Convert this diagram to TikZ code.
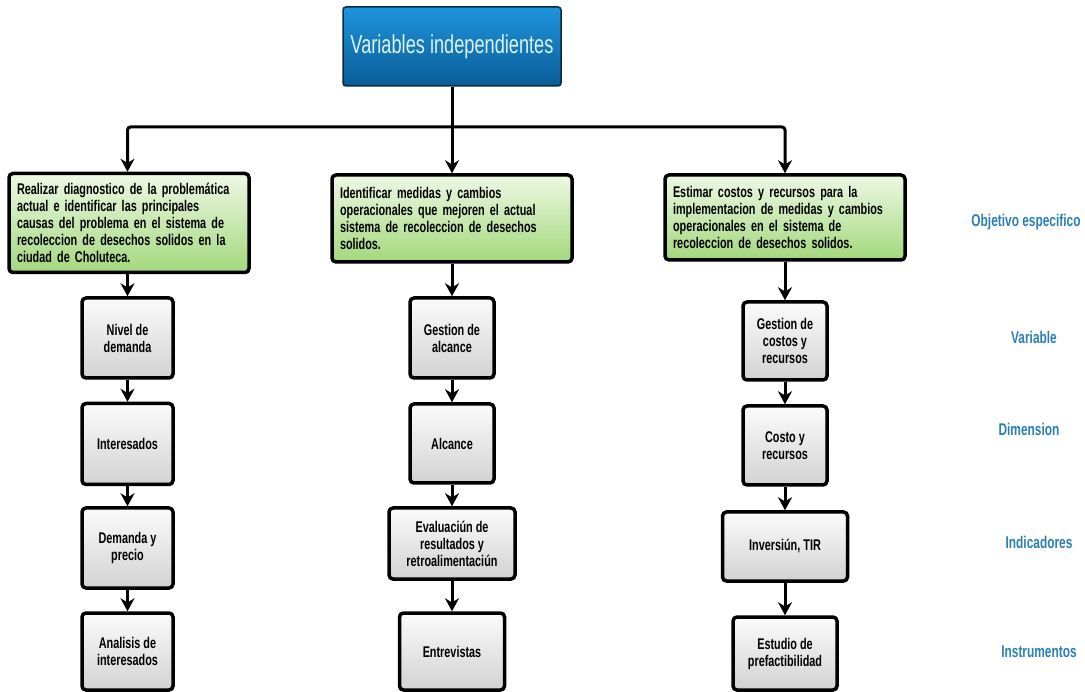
\documentclass[tikz,border=0pt]{standalone}
\usepackage{fontspec}
\setmainfont{Liberation Sans}[FakeStretch=0.7]
\usetikzlibrary{arrows.meta,positioning}
\definecolor{azulArriba}{HTML}{1E95DC}
\definecolor{azulAbajo}{HTML}{0A5C96}
\definecolor{azulBorde}{HTML}{0B2A40}
\definecolor{tituloTexto}{HTML}{DDF2FB}
\definecolor{verdeArriba}{HTML}{EEF8E4}
\definecolor{verdeAbajo}{HTML}{A2D87C}
\definecolor{grisArriba}{HTML}{FBFBFB}
\definecolor{grisAbajo}{HTML}{D2D2D2}
\definecolor{azulEtiqueta}{HTML}{2A7FB3}

\begin{document}
\begin{tikzpicture}[x=1pt,y=-1pt,
  titulo/.style={draw=azulBorde, line width=1.5pt, rounded corners=3pt,
    top color=azulArriba, bottom color=azulAbajo, text=tituloTexto,
    font=\fontsize{26}{30}\selectfont, minimum width=218pt, minimum height=79pt},
  objetivo/.style={draw, line width=3.5pt, rounded corners=4pt,
    top color=verdeArriba, bottom color=verdeAbajo, align=left,
    inner xsep=8pt, text width=224pt, font=\bfseries\fontsize{15.5}{17}\selectfont},
  caja/.style={draw, line width=3.5pt, rounded corners=4pt,
    top color=grisArriba, bottom color=grisAbajo, align=center,
    font=\bfseries\fontsize{15.5}{17}\selectfont},
  flecha/.style={line width=3pt, rounded corners=3pt, -{Stealth[length=13pt,width=14pt]}},
  linea/.style={line width=3pt},
  etiqueta/.style={text=azulEtiqueta, font=\bfseries\fontsize{17}{20}\selectfont}]
  \useasboundingbox (0,0) rectangle (1085,692);

  % raiz
  \node[titulo] (titulo) at (452,46.5) {Variables independientes};
  \coordinate (rama) at (452,127);

  % objetivos especificos
  \node[objetivo, minimum height=99pt] (obj1) at (129,223) {Realizar diagnostico de la problemática\\actual e identificar las principales\\causas del problema en el sistema de\\recoleccion de desechos solidos en la\\ciudad de Choluteca.};
  \node[objetivo, minimum height=87pt] (obj2) at (452,218.5) {Identificar medidas y cambios\\operacionales que mejoren el actual\\sistema de recoleccion de desechos\\solidos.};
  \node[objetivo, minimum height=85pt] (obj3) at (785,217.5) {Estimar costos y recursos para la\\implementacion de medidas y cambios\\operacionales en el sistema de\\recoleccion de desechos solidos.};

  % columna izquierda
  \node[caja, minimum width=91pt, minimum height=80pt] (nivel) at (127.5,338) {Nivel de\\demanda};
  \node[caja, minimum width=91pt, minimum height=81pt] (inter) at (127.5,444) {Interesados};
  \node[caja, minimum width=91pt, minimum height=80pt] (demanda) at (127.5,548) {Demanda y\\precio};
  \node[caja, minimum width=91pt, minimum height=77pt] (analisis) at (127.5,651.5) {Analisis de\\interesados};

  % columna central
  \node[caja, minimum width=84pt, minimum height=80pt] (gesAlc) at (452,338) {Gestion de\\alcance};
  \node[caja, minimum width=84pt, minimum height=79pt] (alcance) at (452,443.5) {Alcance};
  \node[caja, minimum width=126pt, minimum height=71pt] (evalua) at (452,543.5) {Evaluaciún de\\resultados y\\retroalimentaciún};
  \node[caja, minimum width=105pt, minimum height=77pt] (entrev) at (452,651.5) {Entrevistas};

  % columna derecha
  \node[caja, minimum width=84pt, minimum height=78pt] (gesCos) at (785,341) {Gestion de\\costos y\\recursos};
  \node[caja, minimum width=84pt, minimum height=79pt] (costo) at (785,445.5) {Costo y\\recursos};
  \node[caja, minimum width=125pt, minimum height=69pt] (inversion) at (785,546.5) {Inversiún, TIR};
  \node[caja, minimum width=104pt, minimum height=73pt] (estudio) at (785,653.5) {Estudio de\\prefactibilidad};

  % etiquetas
  \node[etiqueta] (lblObj) at (1026,222) {Objetivo especifico};
  \node[etiqueta] (lblVar) at (1034,337) {Variable};
  \node[etiqueta] (lblDim) at (1029,429) {Dimension};
  \node[etiqueta] (lblInd) at (1039,542) {Indicadores};
  \node[etiqueta] (lblIns) at (1039,652) {Instrumentos};

  % conectores
  \draw[linea] (titulo.south) -- (rama);
  \draw[flecha] (rama) -| (nivel.north |- obj1.north);
  \draw[flecha] (rama) -- (obj2.north);
  \draw[flecha] (rama) -| (obj3.north);
  \draw[flecha] (obj1.south -| nivel.north) -- (nivel.north);
  \draw[flecha] (obj2) -- (gesAlc);
  \draw[flecha] (obj3) -- (gesCos);
  \draw[flecha] (nivel) -- (inter);
  \draw[flecha] (inter) -- (demanda);
  \draw[flecha] (demanda) -- (analisis);
  \draw[flecha] (gesAlc) -- (alcance);
  \draw[flecha] (alcance) -- (evalua);
  \draw[flecha] (evalua) -- (entrev);
  \draw[flecha] (gesCos) -- (costo);
  \draw[flecha] (costo) -- (inversion);
  \draw[flecha] (inversion) -- (estudio);
\end{tikzpicture}
\end{document}
